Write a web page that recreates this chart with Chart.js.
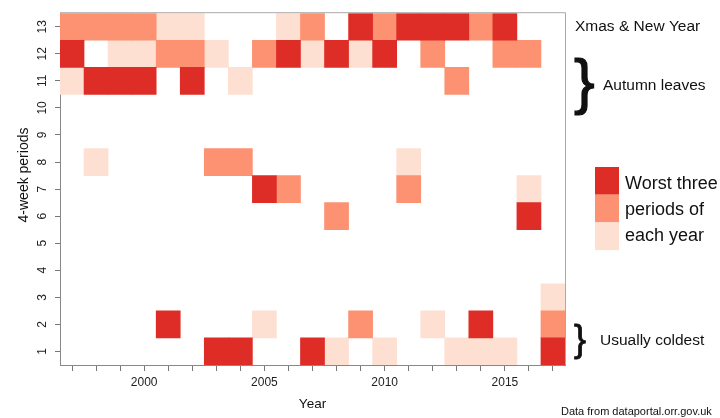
<!DOCTYPE html>
<html>
<head>
<meta charset="utf-8">
<script src="https://cdn.jsdelivr.net/npm/chart.js@4"></script>
<style>
  html, body { margin: 0; padding: 0; background: #fff; }
  #wrap { position: relative; width: 720px; height: 418px; }
</style>
</head>
<body>
<div id="wrap"><canvas id="heat_chart"></canvas></div>
<script>
const heatChart = document.querySelector('#heat_chart')
const fontFamily = '"Liberation Sans", Arial, sans-serif'

// one column per year, rows are 4-week periods 1..13
const years = [1997, 1998, 1999, 2000, 2001, 2002, 2003, 2004, 2005, 2006, 2007,
  2008, 2009, 2010, 2011, 2012, 2013, 2014, 2015, 2016, 2017]
// period of the worst, second worst and third worst performance in each year
const worstPeriod = [12, 11, 11, 11, 2, 11, 1, 1, 7, 12, 1, 12, 13, 12, 13, 13, 13, 2, 13, 6, 1]
const secondPeriod = [13, 13, 13, 13, 12, 12, 8, 8, 12, 7, 13, 6, 2, 13, 7, 12, 11, 13, 12, 12, 2]
const thirdPeriod = [11, 8, 12, 12, 13, 13, 12, 11, 2, 13, 12, 1, 12, 1, 8, 2, 1, 1, 1, 7, 3]
const periodTicks = [1, 2, 3, 4, 5, 6, 7, 8, 9, 10, 11, 12, 13]
const yearLabels = [2000, 2005, 2010, 2015]
const cellColors = ['#de2d26', '#fc9272', '#fee0d2']

const toCells = periods => periods.map(p => [p - 0.5, p + 0.5])

const notes = {
  id: 'notes',
  afterDraw(chart) {
    const { ctx, chartArea: a } = chart
    ctx.save()
    // box around the plot (left/bottom come from the axes)
    ctx.strokeStyle = '#aaa'
    ctx.lineWidth = 1
    ctx.beginPath()
    ctx.moveTo(a.left, a.top - 0.5)
    ctx.lineTo(a.right + 0.5, a.top - 0.5)
    ctx.lineTo(a.right + 0.5, a.bottom)
    ctx.stroke()

    ctx.fillStyle = '#111'
    ctx.textBaseline = 'middle'
    ctx.textAlign = 'left'

    // y title, sits a bit above the middle like the original
    ctx.save()
    ctx.translate(24, 175)
    ctx.rotate(-Math.PI / 2)
    ctx.textAlign = 'center'
    ctx.font = '14px ' + fontFamily
    ctx.fillText('4-week periods', 0, 0)
    ctx.restore()

    ctx.font = '15.5px ' + fontFamily
    ctx.fillText('Xmas & New Year', 575, 27)
    ctx.fillText('Autumn leaves', 603, 86)
    ctx.fillText('Usually coldest', 600, 341)

    // braces, a little heavier than the plain glyph
    ctx.strokeStyle = '#111'
    ctx.font = '62px ' + fontFamily
    ctx.lineWidth = 1.2
    ctx.fillText('}', 574, 85)
    ctx.strokeText('}', 574, 85)
    ctx.font = '36px ' + fontFamily
    ctx.lineWidth = 0.8
    ctx.fillText('}', 574, 341)
    ctx.strokeText('}', 574, 341)

    // legend swatches
    cellColors.forEach((c, i) => {
      ctx.fillStyle = c
      ctx.fillRect(595, 167 + i * 27.7, 24, 27.7)
    })
    ctx.fillStyle = '#111'
    ctx.font = '18px ' + fontFamily
    ctx.textBaseline = 'alphabetic'
    ctx.fillText('Worst three', 625, 189)
    ctx.fillText('periods of', 625, 215)
    ctx.fillText('each year', 625, 241)

    ctx.font = '11px ' + fontFamily
    ctx.fillText('Data from dataportal.orr.gov.uk', 561, 415)
    ctx.restore()
  }
}

new Chart(heatChart, {
  type: 'bar',
  plugins: [notes],
  data: {
    labels: years,
    datasets: [
      { label: 'Worst', data: toCells(worstPeriod), backgroundColor: cellColors[0] },
      { label: 'Second', data: toCells(secondPeriod), backgroundColor: cellColors[1] },
      { label: 'Third', data: toCells(thirdPeriod), backgroundColor: cellColors[2] }
    ]
  },
  options: {
    responsive: true,
    maintainAspectRatio: false,
    animation: false,
    layout: { padding: { top: 13, right: 155, left: 0, bottom: 0 } },
    datasets: {
      bar: { barPercentage: 1, categoryPercentage: 1, grouped: false, borderWidth: 0 }
    },
    plugins: {
      legend: { display: false },
      title: { display: false },
      tooltip: { enabled: false }
    },
    scales: {
      x: {
        type: 'category',
        offset: true,
        grid: { offset: false, drawOnChartArea: false, tickLength: 6, color: '#777' },
        border: { color: '#888' },
        ticks: {
          autoSkip: false,
          maxRotation: 0,
          padding: 4,
          color: '#222',
          font: { family: fontFamily, size: 12 },
          callback: function (value) {
            const y = this.getLabelForValue(value)
            return yearLabels.includes(Number(y)) ? y : ''
          }
        },
        title: {
          display: true,
          text: 'Year',
          color: '#111',
          font: { family: fontFamily, size: 13.5 },
          padding: { top: 0, bottom: 6 }
        },
        afterFit: scale => { scale.height = 53 }
      },
      y: {
        type: 'linear',
        min: 0.5,
        max: 13.5,
        afterBuildTicks: scale => { scale.ticks = periodTicks.map(v => ({ value: v })) },
        grid: { drawOnChartArea: false, tickLength: 5, color: '#777' },
        border: { color: '#888' },
        ticks: {
          minRotation: 90,
          maxRotation: 90,
          crossAlign: 'center',
          padding: 6,
          color: '#222',
          font: { family: fontFamily, size: 12 }
        },
        afterFit: scale => { scale.width = 60 }
      }
    }
  }
})
</script>
</body>
</html>
